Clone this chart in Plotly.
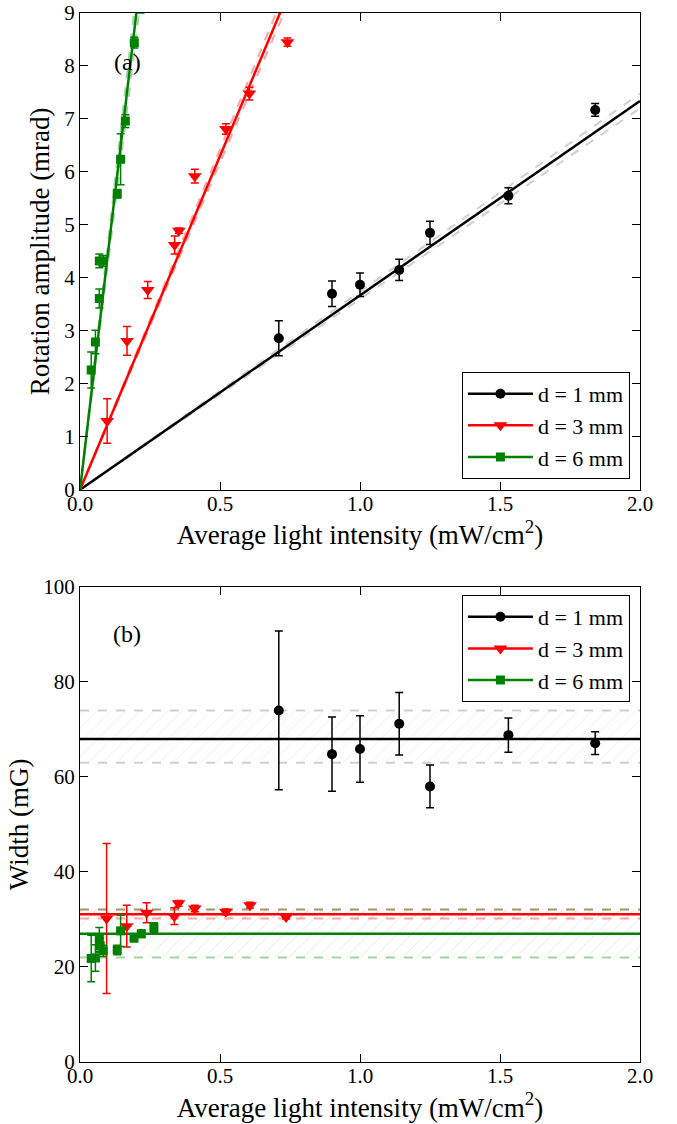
import numpy as np
import plotly.graph_objects as go
from plotly.subplots import make_subplots

# ---------- data: panel (a) rotation amplitude ----------
x1_a = [0.71, 0.90, 1.00, 1.14, 1.25, 1.53, 1.84]
y1_a = [2.86, 3.70, 3.87, 4.15, 4.85, 5.55, 7.17]
e1_a = [0.33, 0.24, 0.22, 0.20, 0.22, 0.15, 0.12]

x3_a = [0.097, 0.168, 0.242, 0.338, 0.353, 0.410, 0.521, 0.605, 0.741]
y3_a = [1.30, 2.81, 3.77, 4.62, 4.89, 5.92, 6.81, 7.48, 8.45]
e3_a = [0.42, 0.27, 0.16, 0.17, 0.05, 0.13, 0.10, 0.12, 0.08]

x6_a = [0.040, 0.055, 0.069, 0.069, 0.083, 0.133, 0.145, 0.162, 0.194, 0.216]
y6_a = [2.26, 2.79, 3.61, 4.32, 4.32, 5.59, 6.24, 6.96, 8.44, 9.15]
e6_a = [0.34, 0.22, 0.18, 0.13, 0.10, 0.08, 0.48, 0.12, 0.10, 0.15]

# fitted slopes and their uncertainties (mrad per mW/cm^2)
slopes = [3.67, 12.6, 44.7]
slope_err = [0.07, 0.25, 2.0]

# ---------- data: panel (b) width ----------
x1_b = [0.71, 0.90, 1.00, 1.14, 1.25, 1.53, 1.84]
y1_b = [74.0, 64.8, 65.9, 71.2, 58.0, 68.8, 67.1]
e1_b = [16.7, 7.8, 7.0, 6.6, 4.5, 3.6, 2.4]

x3_b = [0.095, 0.167, 0.238, 0.337, 0.352, 0.410, 0.521, 0.607, 0.736]
y3_b = [30.2, 28.6, 31.4, 30.7, 33.4, 32.3, 31.6, 33.0, 30.5]
e3_b = [15.8, 4.4, 2.1, 1.75, 0.6, 0.7, 0.6, 0.6, 0.4]

x6_b = [0.040, 0.055, 0.069, 0.072, 0.083, 0.133, 0.145, 0.193, 0.219, 0.264]
y6_b = [21.8, 21.9, 25.8, 24.5, 23.4, 23.6, 27.6, 26.1, 27.0, 28.3]
e6_b = [4.9, 2.8, 2.5, 1.5, 1.2, 1.0, 3.3, 0.8, 0.8, 1.0]

# mean widths and band limits (mG)
mean_w = [68.0, 31.1, 27.0]
band_lo = [63.0, 30.2, 22.0]
band_hi = [74.0, 32.1, 32.1]

labels = ["d = 1 mm", "d = 3 mm", "d = 6 mm"]
colors = ["#000000", "#ff0000", "#008000"]
band_rgba = ["rgba(150,150,150,0.45)", "rgba(255,0,0,0.35)", "rgba(0,128,0,0.35)"]
hatch_rgba = ["rgba(150,150,150,0.35)", "rgba(255,0,0,0.25)", "rgba(0,128,0,0.3)"]
symbols = ["circle", "triangle-down", "square"]
msizes = [10, 12, 9]

FONT = "Liberation Serif, Times New Roman, DejaVu Serif, serif"
XMAX = 2.0

fig = make_subplots(rows=2, cols=1, vertical_spacing=0.0)

# ---------- panel (a) ----------
xa = [x1_a, x3_a, x6_a]
ya = [y1_a, y3_a, y6_a]
ea = [e1_a, e3_a, e6_a]
for i in range(3):
    k, dk = slopes[i], slope_err[i]
    fig.add_trace(go.Scatter(
        x=[0, XMAX, XMAX, 0], y=[0, (k + dk) * XMAX, (k - dk) * XMAX, 0],
        mode="lines", line=dict(width=0), fill="toself",
        fillcolor="rgba(0,0,0,0)",
        fillpattern=dict(shape="/", fgcolor=hatch_rgba[i], bgcolor="rgba(0,0,0,0)",
                         size=8, solidity=0.1),
        showlegend=False, hoverinfo="skip"), row=1, col=1)
    for s in (k + dk, k - dk):
        fig.add_trace(go.Scatter(
            x=[0, XMAX], y=[0, s * XMAX], mode="lines",
            line=dict(color=band_rgba[i], width=2, dash="dash"),
            showlegend=False, hoverinfo="skip"), row=1, col=1)
    fig.add_trace(go.Scatter(
        x=[0, XMAX], y=[0, k * XMAX], mode="lines",
        line=dict(color=colors[i], width=2.5), showlegend=False), row=1, col=1)
for i in range(3):
    fig.add_trace(go.Scatter(
        x=xa[i], y=ya[i], mode="markers",
        marker=dict(symbol=symbols[i], size=msizes[i], color=colors[i]),
        error_y=dict(type="data", array=ea[i], color=colors[i], thickness=1.5, width=4),
        showlegend=False), row=1, col=1)

# ---------- panel (b) ----------
xb = [x1_b, x3_b, x6_b]
yb = [y1_b, y3_b, y6_b]
eb = [e1_b, e3_b, e6_b]
for i in range(3):
    fig.add_trace(go.Scatter(
        x=[0, XMAX, XMAX, 0], y=[band_lo[i], band_lo[i], band_hi[i], band_hi[i]],
        mode="lines", line=dict(width=0), fill="toself",
        fillcolor="rgba(0,0,0,0)",
        fillpattern=dict(shape="/", fgcolor=hatch_rgba[i], bgcolor="rgba(0,0,0,0)",
                         size=10, solidity=0.08),
        showlegend=False, hoverinfo="skip"), row=2, col=1)
    for v in (band_lo[i], band_hi[i]):
        fig.add_trace(go.Scatter(
            x=[0, XMAX], y=[v, v], mode="lines",
            line=dict(color=band_rgba[i], width=2, dash="dash"),
            showlegend=False, hoverinfo="skip"), row=2, col=1)
    fig.add_trace(go.Scatter(
        x=[0, XMAX], y=[mean_w[i], mean_w[i]], mode="lines",
        line=dict(color=colors[i], width=2.5), showlegend=False), row=2, col=1)
for i in range(3):
    fig.add_trace(go.Scatter(
        x=xb[i], y=yb[i], mode="markers",
        marker=dict(symbol=symbols[i], size=msizes[i], color=colors[i]),
        error_y=dict(type="data", array=eb[i], color=colors[i], thickness=1.5, width=4),
        showlegend=False), row=2, col=1)

# ---------- legend entries ----------
for lg, row in (("legend", 1), ("legend2", 2)):
    for i in range(3):
        fig.add_trace(go.Scatter(
            x=[None], y=[None], mode="lines+markers", name=labels[i],
            line=dict(color=colors[i], width=2.5),
            marker=dict(symbol=symbols[i], size=msizes[i], color=colors[i]),
            legend=lg, showlegend=True), row=row, col=1)

axis_common = dict(
    showline=True, linecolor="black", linewidth=1.2, mirror="ticks",
    ticks="inside", ticklen=8, tickwidth=1, tickcolor="black",
    showgrid=False, zeroline=False,
    tickfont=dict(family=FONT, size=21, color="black"),
)

title_x = dict(text="Average light intensity (mW/cm<sup>2</sup>)",
               font=dict(family=FONT, size=27, color="black"), standoff=8)

fig.update_xaxes(range=[0, XMAX], tickvals=[0, 0.5, 1.0, 1.5, 2.0], tickformat=".1f",
                 title=title_x, ticklabelstandoff=-5, **axis_common)
fig.update_yaxes(**axis_common)
fig.update_yaxes(range=[0, 9], dtick=1, row=1, col=1,
                 title=dict(text="Rotation amplitude (mrad)",
                            font=dict(family=FONT, size=27, color="black"), standoff=6))
fig.update_yaxes(range=[0, 100], dtick=20, row=2, col=1,
                 title=dict(text="Width (mG)",
                            font=dict(family=FONT, size=27, color="black"), standoff=6))

legend_common = dict(bordercolor="black", borderwidth=1, bgcolor="white",
                     font=dict(family=FONT, size=22, color="black"),
                     itemwidth=65, tracegroupgap=0)

fig.update_layout(
    width=677, height=1124,
    margin=dict(l=80, r=37, t=1, b=62),
    paper_bgcolor="white", plot_bgcolor="white",
    yaxis=dict(domain=[0.5455, 1.0]),
    yaxis2=dict(domain=[0.0, 0.4529]),
    legend=dict(x=0.982, y=0.5558, xanchor="right", yanchor="bottom", **legend_common),
    legend2=dict(x=0.982, y=0.4452, xanchor="right", yanchor="top", **legend_common),
    showlegend=True,
)

fig.add_annotation(x=0.168, y=8.07, xref="x", yref="y", text="(a)", showarrow=False,
                   font=dict(family=FONT, size=24, color="black"))
fig.add_annotation(x=0.168, y=90.1, xref="x2", yref="y2", text="(b)", showarrow=False,
                   font=dict(family=FONT, size=24, color="black"))

fig.write_html("out.html", config={"displayModeBar": False},
               post_script="document.body.style.margin='0px';")
